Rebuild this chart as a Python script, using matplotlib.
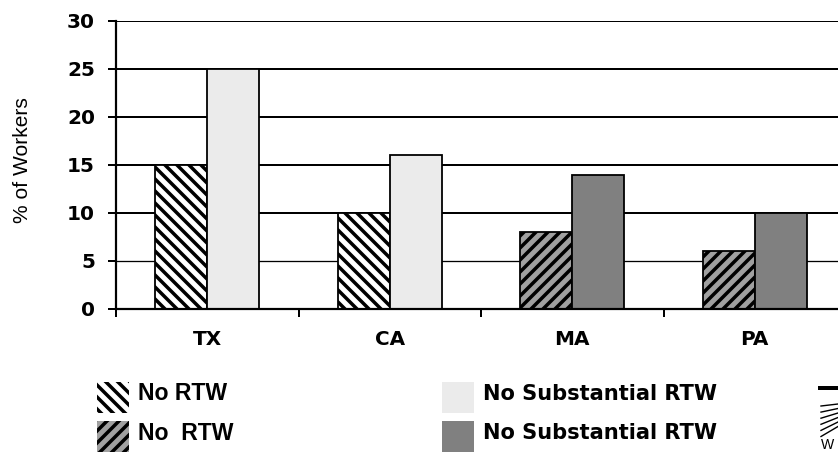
import matplotlib
matplotlib.use("Agg")
import matplotlib.pyplot as plt
from matplotlib.patches import Rectangle
import numpy as np

states = ["TX", "CA", "MA", "PA"]
no_rtw = [15, 10, 8, 6]
no_substantial_rtw = [25, 16, 14, 10]
y_ticks = [0, 5, 10, 15, 20, 25, 30]

# first two states: white/light fills, last two: gray fills
hatch_faces = ["white", "white", "#a0a0a0", "#a0a0a0"]
hatch_styles = ["\\\\", "\\\\", "//", "//"]
solid_faces = ["#ebebeb", "#ebebeb", "#808080", "#808080"]

plt.rcParams["hatch.linewidth"] = 3.5
plt.rcParams["font.family"] = ["DejaVu Sans"]

# work in pixels: 1 pt == 1 px at 72 dpi
W, H = 838, 452
fig = plt.figure(figsize=(W / 72, H / 72), dpi=72)
ax = fig.add_axes([116 / W, (H - 309) / H, 730 / W, 288 / H])

x = np.arange(len(states))
bw = 0.285
for i in range(len(states)):
    ax.bar(x[i] - bw / 2, no_rtw[i], bw, color=hatch_faces[i], hatch=hatch_styles[i],
           edgecolor="black", linewidth=1.8, zorder=3)
    ax.bar(x[i] + bw / 2, no_substantial_rtw[i], bw, color=solid_faces[i],
           edgecolor="black", linewidth=1.8, zorder=3)

ax.set_xlim(-0.5, len(states) - 0.5)
ax.set_ylim(0, 30)
ax.set_yticks(y_ticks)
ax.set_yticklabels([str(t) for t in y_ticks], fontsize=20, fontweight="bold")
ax.set_xticks(x)
ax.set_xticklabels(states, fontsize=20, fontweight="bold")
ax.tick_params(axis="x", length=0, pad=21)
# category separators on the x axis
ax.set_xticks(np.arange(len(states)) - 0.5, minor=True)
ax.tick_params(axis="x", which="minor", length=8, width=2, direction="out")
ax.tick_params(axis="y", length=8, width=2, direction="out", pad=13)

for t in y_ticks[1:]:
    ax.axhline(t, color="black", linewidth=2 if t > 5 else 1.3, zorder=1)
for side in ["top", "right"]:
    ax.spines[side].set_visible(False)
ax.spines["left"].set_linewidth(2.2)
ax.spines["bottom"].set_linewidth(2.2)
ax.spines["bottom"].set_zorder(4)

fig.text(23 / W, 1 - 160 / H, "% of Workers", rotation=90, fontsize=21,
         family=["Liberation Sans", "DejaVu Sans"], ha="center", va="center")

# legend drawn in figure pixels
legend_items = [
    (97, 397, "white", "\\\\", "No RTW", "Liberation Sans"),
    (97, 436, "#a0a0a0", "//", "No  RTW", "Liberation Sans"),
    (442, 397, "#ebebeb", None, "No Substantial RTW", "DejaVu Sans"),
    (442, 436, "#808080", None, "No Substantial RTW", "DejaVu Sans"),
]
for px, py, face, hatch, label, fam in legend_items:
    fig.patches.append(Rectangle((px / W, (H - py - 15.5) / H), 32 / W, 31 / H,
                                 transform=fig.transFigure, facecolor=face,
                                 hatch=hatch, edgecolor="black" if hatch else face,
                                 linewidth=0))
    fig.text((px + 41) / W, 1 - (py - 3) / H, label,
             fontsize=23 if fam == "Liberation Sans" else 21, fontweight="bold",
             family=[fam, "DejaVu Sans"], va="center", ha="left")

# corner logo at the page edge
fig.add_artist(plt.Line2D([820 / W, 1], [1 - 388 / H] * 2, transform=fig.transFigure,
                          color="black", linewidth=4))
for k in range(6):
    y0 = 404 + k * 4.5
    drop = 2 + k * 1.6
    fig.add_artist(plt.Line2D([838 / W, 821 / W], [1 - y0 / H, 1 - (y0 + drop) / H],
                              transform=fig.transFigure, color="black", linewidth=1.4))
fig.text(821 / W, 1 - 449 / H, "W", fontsize=14, va="baseline", ha="left",
         family=["Liberation Sans", "DejaVu Sans"])

fig.savefig("out.png", dpi=72)
